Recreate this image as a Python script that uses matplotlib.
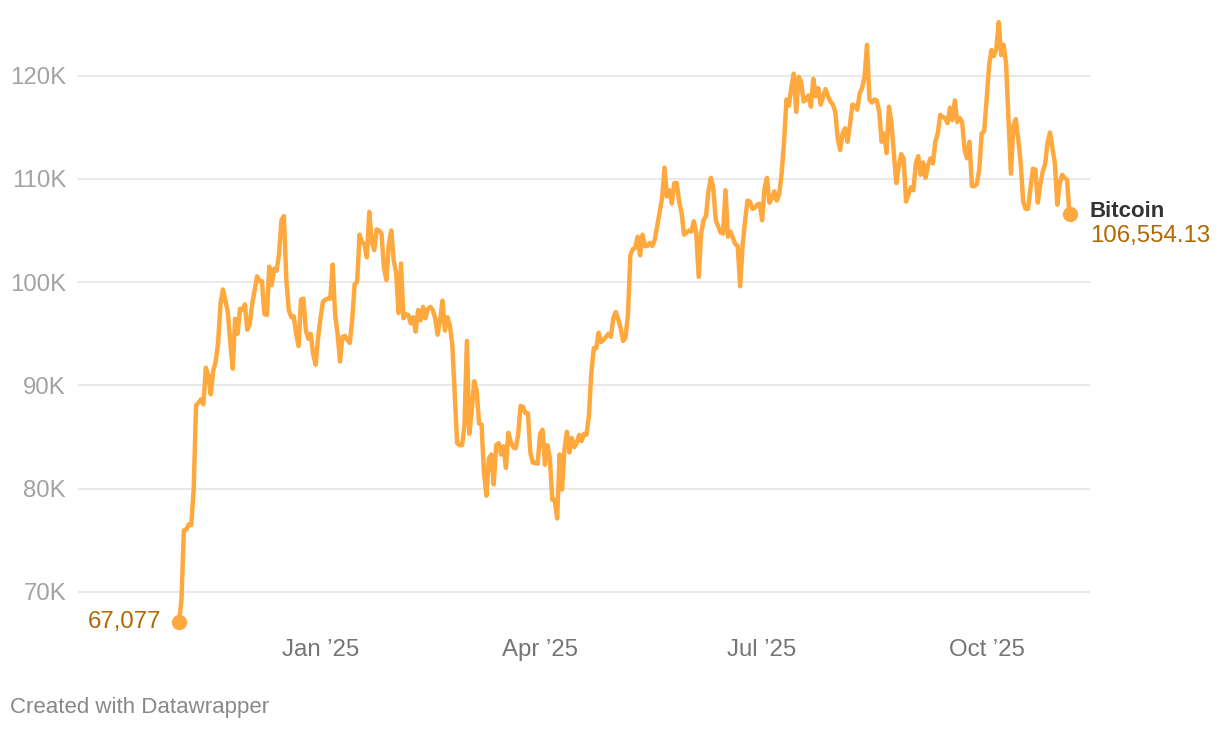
import matplotlib
matplotlib.use("Agg")
import matplotlib.pyplot as plt
import pandas as pd

plt.rcParams['font.family'] = ['Liberation Sans', 'DejaVu Sans']

# daily Bitcoin price (USD), 4 Nov 2024 - 4 Nov 2025
nov24 = [67077, 69200, 75960, 76020, 76540, 76440, 79830, 88060, 88320, 88640,
         88160, 91710, 90960, 89120, 91380, 92250, 94030, 97900, 99290, 98230,
         97100, 94190, 91610, 96450, 95000, 97420, 97320]
dec24 = [97840, 95390, 95970, 97900, 99190, 100550, 100060, 100100, 96900, 96800,
         101500, 99700, 101300, 101100, 102700, 106000, 106400, 100200, 97300, 96600,
         96700, 95000, 93800, 98300, 98400, 95300, 94500, 95000, 93000, 92000, 94600]
jan25 = [96500, 98100, 98300, 98400, 98400, 101700, 96800, 95000, 92300, 94700,
         94800, 94400, 94100, 96400, 99800, 100000, 104600, 103900, 103700, 102400,
         106800, 103900, 103100, 105100, 105000, 104700, 101400, 100200, 103700, 105000,
         102100]
feb25 = [100900, 97000, 101800, 96500, 96900, 96800, 96000, 96600, 95200, 97300,
         96300, 97600, 96500, 97400, 97600, 97300, 96500, 94900, 96300, 98200,
         95300, 96600, 95800, 94000, 89200, 84400, 84200, 84200]
mar25 = [86000, 94300, 85300, 87600, 90400, 89500, 86300, 86200, 81500, 79300,
         82900, 83300, 80400, 84200, 84400, 83300, 84100, 82000, 85400, 84500,
         84000, 83900, 85200, 88000, 87900, 87300, 87300, 83500, 82500, 82500, 82400]
apr25 = [85300, 85700, 82300, 84200, 83000, 78900, 78900, 77100, 83300, 79900,
         83800, 85500, 83500, 84900, 84000, 84400, 85200, 84600, 85300, 85200,
         87000, 91200, 93600, 93600, 95100, 94200, 94400, 94700, 95000, 94700]
may25 = [96500, 97100, 96400, 95600, 94300, 94600, 96800, 102600, 103200, 103300,
         104400, 102600, 104600, 103500, 103500, 103800, 103500, 104100, 105400, 106800,
         108100, 111100, 108300, 108900, 107600, 109600, 109600, 107800, 106700, 104600,
         104800]
jun25 = [105000, 104900, 105900, 104800, 100500, 104700, 106000, 106400, 108800, 110100,
         109100, 106000, 105400, 104800, 104700, 108900, 104400, 104900, 104300, 103700,
         103500, 99600, 103500, 105900, 107900, 107800, 107100, 107200, 107500, 107600]
jul25 = [106000, 109100, 110100, 107700, 108100, 108800, 107900, 108500, 110500, 113600,
         117700, 117100, 118900, 120200, 116500, 119900, 119400, 117500, 117700, 118100,
         117000, 119700, 118000, 118800, 117200, 118000, 118700, 118000, 117500, 117200,
         116500]
aug25 = [113900, 112800, 114400, 114900, 113600, 115200, 117200, 117100, 116700, 118300,
         118800, 119900, 123000, 117700, 117400, 117700, 117600, 116500, 113600, 114400,
         112500, 117000, 115400, 112500, 109600, 111200, 112400, 112000, 107800, 108500,
         109200]
sep25 = [108900, 111500, 112200, 110400, 111600, 110100, 111300, 112000, 111500, 113600,
         114400, 116200, 116000, 115900, 115400, 116900, 115700, 117600, 115500, 115900,
         115500, 112800, 112000, 113600, 109300, 109300, 109500, 110900, 114400, 114600]
oct25 = [117600, 120900, 122500, 121900, 122600, 125200, 122000, 123000, 121200, 115700,
         110500, 115200, 115800, 113800, 111500, 107800, 107100, 107100, 109100, 111000,
         110900, 107700, 109400, 110700, 111400, 113500, 114500, 113000, 111500, 107500,
         109600]
nov25 = [110400, 110100, 109900, 106554.13]

prices = nov24 + dec24 + jan25 + feb25 + mar25 + apr25 + may25 + jun25 + jul25 + aug25 + sep25 + oct25 + nov25
dates = pd.date_range("2024-11-04", periods=len(prices), freq="D")

y_ticks = [70000, 80000, 90000, 100000, 110000, 120000]
x_ticks = ["2025-01-01", "2025-04-01", "2025-07-01", "2025-10-01"]
x_labels = ["Jan \u201925", "Apr \u201925", "Jul \u201925", "Oct \u201925"]

orange = "#ffa83e"
label_orange = "#b06800"

fig = plt.figure(figsize=(12.2, 7.3), dpi=100)
ax = fig.add_axes([78 / 1220, 1 - 633 / 730, 1012 / 1220, 619.2 / 730])

ax.plot(dates, prices, color=orange, lw=3.2, solid_joinstyle="round", solid_capstyle="round", zorder=3)
ax.plot([dates[0], dates[-1]], [prices[0], prices[-1]], "o", color=orange, ms=10, zorder=4)

ax.set_ylim(66000, 126000)
ax.set_xlim(dates[0] - pd.Timedelta(days=41.4), dates[-1] + pd.Timedelta(days=8.4))

ax.set_yticks(y_ticks)
ax.set_yticklabels([f"{v // 1000}K" for v in y_ticks])
ax.set_xticks(pd.to_datetime(x_ticks))
ax.set_xticklabels(x_labels)
ax.grid(axis="y", color="#e3e3e3", lw=1.1)
ax.set_axisbelow(True)
for s in ax.spines.values():
    s.set_visible(False)
ax.tick_params(axis="y", length=0, pad=8.6, labelsize=17.3, labelcolor="#a3a3a3")
ax.tick_params(axis="x", length=0, pad=4, labelsize=17.3, labelcolor="#757575")

ax.annotate(f"{prices[0]:,.0f}", (dates[0], prices[0]), xytext=(-13, 0), textcoords="offset points",
            ha="right", va="center", fontsize=17.3, color=label_orange)
ax.annotate("Bitcoin", (dates[-1], prices[-1]), xytext=(14.5, 2.2), textcoords="offset points",
            ha="left", va="center", fontsize=16, fontweight="bold", color="#333333")
ax.annotate(f"{prices[-1]:,.2f}", (dates[-1], prices[-1]), xytext=(14.5, -15.8), textcoords="offset points",
            ha="left", va="center", fontsize=17.3, color=label_orange)

fig.text(10 / 1220, 1 - 707 / 730, "Created with Datawrapper", ha="left", va="center",
         fontsize=16, color="#888888")

fig.savefig("out.png", dpi=100)
